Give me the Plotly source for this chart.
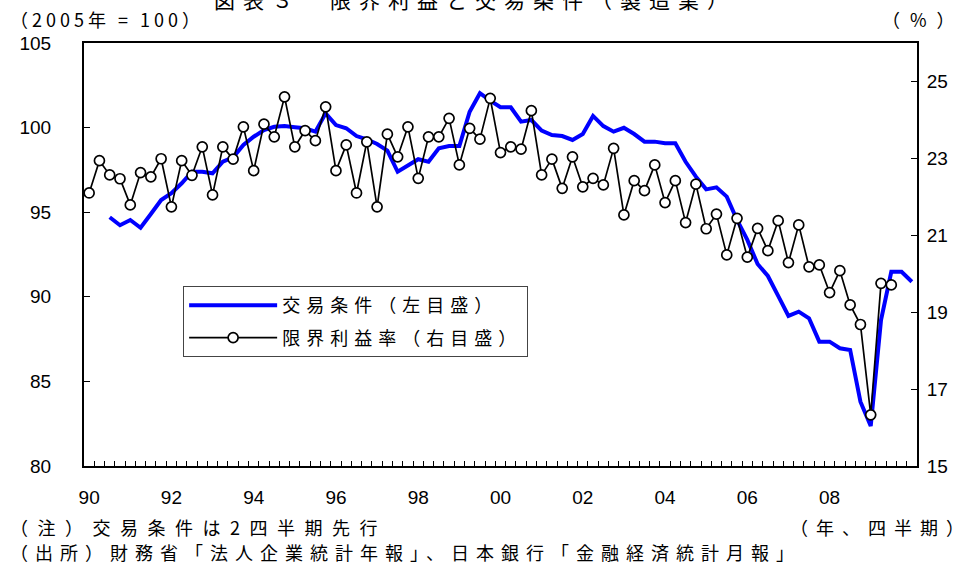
import plotly.graph_objects as go

# ---- data ----
quarters = []
for y in range(1990, 2010):
    for q in range(1, 5):
        quarters.append(f"{y}Q{q}")
quarters.append("2010Q1")

tick_labels = ["90", "92", "94", "96", "98", "00", "02", "04", "06", "08"]
tick_quarters = ["1990Q1", "1992Q1", "1994Q1", "1996Q1", "1998Q1",
                 "2000Q1", "2002Q1", "2004Q1", "2006Q1", "2008Q1"]

# 交易条件 (left axis), starts 1990Q3 (2-quarter lead), ends 2010Q1
terms_of_trade = [
    94.70, 94.23, 94.54, 94.08, 94.89, 95.72, 96.12, 96.71, 97.39, 97.39,
    97.30, 97.98, 98.24, 98.97, 99.46, 99.86, 100.05, 100.09, 100.02, 99.96,
    99.76, 100.84, 100.15, 99.96, 99.50, 99.31, 99.03, 98.64, 97.39, 97.73,
    98.13, 97.98, 98.78, 98.91, 98.91, 100.94, 102.03, 101.59, 101.20, 101.20,
    100.35, 100.45, 99.82, 99.56, 99.50, 99.27, 99.62, 100.69, 100.09, 99.76,
    99.99, 99.62, 99.17, 99.17, 99.07, 99.07, 97.98, 97.10, 96.35, 96.47,
    95.92, 94.54, 93.36, 91.94, 91.23, 90.05, 88.87, 89.12, 88.73, 87.35,
    87.35, 86.96, 86.86, 83.80, 82.36, 88.63, 91.48, 91.48, 90.89,
]
tot_quarters = quarters[2:2 + len(terms_of_trade)]

# 限界利益率 (right axis), 1990Q1 - 2009Q3
marginal_profit = [
    22.10, 22.94, 22.57, 22.47, 21.79, 22.63, 22.52, 22.99, 21.74, 22.94,
    22.56, 23.30, 22.05, 23.30, 22.98, 23.82, 22.68, 23.89, 23.56, 24.60,
    23.30, 23.72, 23.46, 24.34, 22.68, 23.35, 22.10, 23.43, 21.74, 23.63,
    23.04, 23.82, 22.48, 23.56, 23.56, 24.04, 22.83, 23.78, 23.50, 24.56,
    23.15, 23.30, 23.24, 24.24, 22.57, 22.98, 22.22, 23.04, 22.26, 22.48,
    22.31, 23.26, 21.53, 22.42, 22.16, 22.83, 21.85, 22.42, 21.33, 22.33,
    21.17, 21.55, 20.49, 21.44, 20.43, 21.18, 20.60, 21.38, 20.29, 21.27,
    20.18, 20.23, 19.51, 20.08, 19.19, 18.68, 16.33, 19.75, 19.71,
]
mp_quarters = quarters[:len(marginal_profit)]

JP = "Noto Sans CJK JP"
NUM = "Liberation Sans, Arial, sans-serif"


def spaced(s, px):
    return f'<span style="letter-spacing:{px}px">{s}</span>'


fig = go.Figure()
fig.add_trace(go.Scatter(
    x=tot_quarters, y=terms_of_trade, mode="lines",
    name=spaced("交易条件（左目盛）", 6),
    line=dict(color="#0000FF", width=4),
    legendgroup="a",
))
fig.add_trace(go.Scatter(
    x=mp_quarters, y=marginal_profit, mode="lines+markers", yaxis="y2",
    name=spaced("限界利益率（右目盛）", 6),
    line=dict(color="black", width=1.7),
    marker=dict(symbol="circle", size=10, color="white",
                line=dict(color="black", width=1.7)),
    legendgroup="b",
))

ticktext = [tick_labels[tick_quarters.index(q)] if q in tick_quarters else "" for q in quarters]

fig.update_layout(
    width=968, height=571,
    margin=dict(l=84, r=51, t=43, b=105),
    paper_bgcolor="white", plot_bgcolor="white",
    font=dict(family=NUM, size=19, color="black"),
    showlegend=True,
    legend=dict(
        x=0.119, y=0.4255, xanchor="left", yanchor="top",
        bgcolor="white", bordercolor="#444444", borderwidth=1,
        font=dict(family=JP, size=18, color="black"),
        traceorder="grouped", tracegroupgap=6,
        itemwidth=88,
    ),
    xaxis=dict(
        type="category", categoryorder="array", categoryarray=quarters,
        range=[-0.5, len(quarters) - 0.5],
        tickmode="array", tickvals=quarters, ticktext=ticktext,
        tickangle=0,
        tickson="boundaries", ticks="inside", ticklen=5, tickwidth=1,
        tickcolor="black",
        showline=True, linecolor="black", linewidth=2, mirror=True,
        showgrid=False, zeroline=False,
        ticklabelstandoff=13,
        tickfont=dict(family=NUM, size=19),
    ),
    yaxis=dict(
        range=[80, 105], dtick=5, tick0=80,
        ticks="inside", ticklen=6, tickwidth=1, tickcolor="black",
        showline=True, linecolor="black", linewidth=2, mirror=True,
        showgrid=False, zeroline=False,
        ticklabelstandoff=27,
        tickfont=dict(family=NUM, size=19),
    ),
    yaxis2=dict(
        range=[15, 26], dtick=2, tick0=15, overlaying="y", side="right",
        ticks="inside", ticklen=6, tickwidth=1, tickcolor="black",
        showline=True, linecolor="black", linewidth=2,
        showgrid=False, zeroline=False,
        ticklabelstandoff=4,
        tickfont=dict(family=NUM, size=19),
    ),
)

ann_font = dict(family=JP, size=18, color="black")
fig.add_annotation(xref="paper", yref="paper", x=0.469, y=1.104,
                   xanchor="center", yanchor="middle", showarrow=False,
                   text=spaced("図表３　限界利益と交易条件（製造業）", 8),
                   font=dict(family=JP, size=21, color="black"))
fig.add_annotation(xref="paper", yref="paper", x=-0.0912, y=1.0567,
                   xanchor="left", yanchor="middle", showarrow=False,
                   text=spaced("（2005年 = 100）", 4), font=ann_font)
fig.add_annotation(xref="paper", yref="paper", x=1.06, y=1.0567,
                   xanchor="right", yanchor="middle", showarrow=False,
                   text=spaced("（%）", 10), font=ann_font)
fig.add_annotation(xref="paper", yref="paper", x=-0.0912, y=-0.1442,
                   xanchor="left", yanchor="middle", showarrow=False,
                   text=spaced("（注）交易条件は2四半期先行", 9.5), font=ann_font)
fig.add_annotation(xref="paper", yref="paper", x=1.059, y=-0.1442,
                   xanchor="right", yanchor="middle", showarrow=False,
                   text=spaced("（年、四半期", 8) + "）", font=ann_font)
fig.add_annotation(xref="paper", yref="paper", x=-0.0912, y=-0.2033,
                   xanchor="left", yanchor="middle", showarrow=False,
                   text=spaced("（出所）財務省「法人企業統計年報」、日本銀行「金融経済統計月報」", 7),
                   font=ann_font)

fig.write_html("out.html", config={"displayModeBar": False},
               post_script="document.body.style.margin='0';")
